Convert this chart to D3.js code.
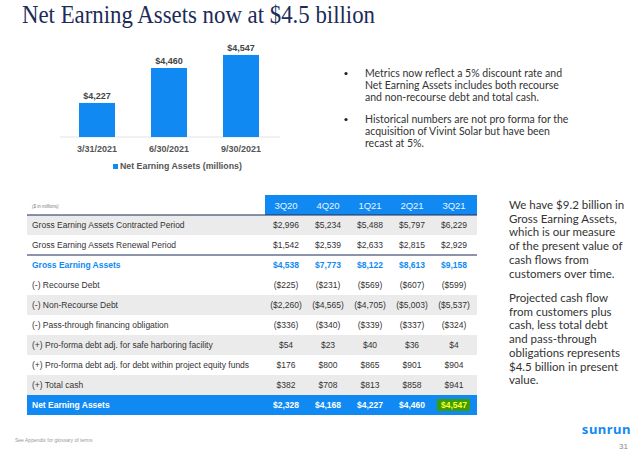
<!DOCTYPE html>
<html>
<head>
<meta charset="utf-8">
<script src="https://cdn.jsdelivr.net/npm/d3@7"></script>
<style>
  html, body { margin: 0; padding: 0; background: #fff; }
  svg { display: block; }
</style>
</head>
<body>
<svg id="chart" width="640" height="458"></svg>
<script>
// ---------- data ----------
const barCategories = ["3/31/2021", "6/30/2021", "9/30/2021"];
const barValues = [4227, 4460, 4547];
const barSeriesName = "Net Earning Assets (millions)";

const quarters = ["3Q20", "4Q20", "1Q21", "2Q21", "3Q21"];
const rowLabels = [
  "Gross Earning Assets Contracted Period",
  "Gross Earning Assets Renewal Period",
  "Gross Earning Assets",
  "(-) Recourse Debt",
  "(-) Non-Recourse Debt",
  "(-) Pass-through financing obligation",
  "(+) Pro-forma debt adj. for safe harboring facility",
  "(+) Pro-forma debt adj. for debt within project equity funds",
  "(+) Total cash",
  "Net Earning Assets"
];
const contracted    = [2996, 5234, 5488, 5797, 6229];
const renewal       = [1542, 2539, 2633, 2815, 2929];
const gross         = [4538, 7773, 8122, 8613, 9158];
const recourse      = [-225, -231, -569, -607, -599];
const nonRecourse   = [-2260, -4565, -4705, -5003, -5537];
const passThrough   = [-336, -340, -339, -337, -324];
const safeHarbor    = [54, 23, 40, 36, 4];
const projectEquity = [176, 800, 865, 901, 904];
const totalCash     = [382, 708, 813, 858, 941];
const netEarning    = [2328, 4168, 4227, 4460, 4547];
const tableValues = [contracted, renewal, gross, recourse, nonRecourse, passThrough,
                     safeHarbor, projectEquity, totalCash, netEarning];

const titleText = "Net Earning Assets now at $4.5 billion";
const bullets = [
  ["Metrics now reflect a 5% discount rate and", "Net Earning Assets includes both recourse", "and non-recourse debt and total cash."],
  ["Historical numbers are not pro forma for the", "acquisition of Vivint Solar but have been", "recast at 5%."]
];
const sideParas = [
  ["We have $9.2 billion in", "Gross Earning Assets,", "which is our measure", "of the present value of", "cash flows from", "customers over time."],
  ["Projected cash flow", "from customers plus", "cash, less total debt", "and pass-through", "obligations represents", "$4.5 billion in present", "value."]
];

// ---------- styles ----------
const BLUE = "#108af2";
const NAVY = "#1c2b57";
const sans = "'Liberation Sans', Arial, sans-serif";
const round = "Lato, 'Noto Sans', sans-serif";

const svg = d3.select("#chart");

// title
svg.append("text")
  .attr("x", 22).attr("y", 23)
  .attr("font-family", "'Liberation Serif', 'DejaVu Serif', serif")
  .attr("font-size", 25)
  .attr("fill", NAVY)
  .attr("textLength", 353).attr("lengthAdjust", "spacingAndGlyphs")
  .text(titleText);

// ---------- bar chart ----------
const x = d3.scaleBand().domain(barCategories).range([61, 277]).paddingInner(0.5).paddingOuter(0.25);
const y = d3.scaleLinear().domain([4000, 4600]).range([137, 47]);

const bc = svg.append("g");
bc.append("line")
  .attr("x1", 60).attr("x2", 280).attr("y1", y(4000)).attr("y2", y(4000))
  .attr("stroke", "#e2e2e2").attr("stroke-width", 1);

bc.selectAll("rect.bar").data(barValues).join("rect")
  .attr("class", "bar")
  .attr("x", (d, i) => x(barCategories[i]))
  .attr("width", x.bandwidth())
  .attr("y", d => y(d))
  .attr("height", d => y(4000) - y(d))
  .attr("fill", BLUE);

const fmtMoney = v => v < 0 ? "($" + d3.format(",")(-v) + ")" : "$" + d3.format(",")(v);

bc.selectAll("text.val").data(barValues).join("text")
  .attr("class", "val")
  .attr("x", (d, i) => x(barCategories[i]) + x.bandwidth() / 2)
  .attr("y", d => y(d) - 4)
  .attr("text-anchor", "middle")
  .attr("font-family", sans).attr("font-weight", "bold").attr("font-size", 9)
  .attr("fill", "#444")
  .text(d => fmtMoney(d));

const xAxis = bc.append("g").attr("transform", `translate(0,${y(4000)})`)
  .call(d3.axisBottom(x).tickSize(0).tickPadding(9));
xAxis.select(".domain").remove();
xAxis.selectAll("text")
  .attr("font-family", sans).attr("font-weight", "bold").attr("font-size", 9)
  .attr("fill", "#555");

// legend
bc.append("rect").attr("x", 113).attr("y", 164).attr("width", 5).attr("height", 5).attr("fill", BLUE);
bc.append("text").attr("x", 120).attr("y", 169)
  .attr("font-family", sans).attr("font-weight", "bold").attr("font-size", 8.8)
  .attr("fill", "#555").text(barSeriesName);

// ---------- bullets ----------
const bg = svg.append("g");
const bulletTops = [77, 123];
bullets.forEach((lines, bi) => {
  bg.append("circle").attr("cx", 346).attr("cy", bulletTops[bi] - 3.5).attr("r", 1.6).attr("fill", "#222");
  lines.forEach((ln, li) => {
    bg.append("text").attr("x", 365).attr("y", bulletTops[bi] + li * 12)
      .attr("font-family", round).attr("font-size", 10.5).attr("fill", "#333").text(ln);
  });
});

// ---------- table ----------
const colX = d3.scaleBand().domain(quarters).range([265, 475]);
const rowY = d3.scaleBand().domain(d3.range(rowLabels.length)).range([215, 415]);
const tbl = svg.append("g");
const greyRows = [0, 4, 6, 8];

// header
tbl.append("rect").attr("x", 265).attr("y", 195).attr("width", 212).attr("height", 20).attr("fill", BLUE);
tbl.selectAll("text.hdr").data(quarters).join("text")
  .attr("class", "hdr")
  .attr("x", d => colX(d) + colX.bandwidth() / 2)
  .attr("y", 208.5)
  .attr("text-anchor", "middle")
  .attr("font-family", sans).attr("font-size", 9.5).attr("fill", "#e8f3ff")
  .text(d => d);
tbl.append("text").attr("x", 32).attr("y", 208)
  .attr("font-family", sans).attr("font-style", "italic").attr("font-size", 4.5).attr("fill", "#777")
  .text("($ in millions)");

// row backgrounds
rowLabels.forEach((lbl, i) => {
  let fill = null;
  if (i === rowLabels.length - 1) fill = BLUE;
  else if (greyRows.includes(i)) fill = "#ebebeb";
  if (fill) {
    tbl.append("rect").attr("x", 27).attr("y", rowY(i)).attr("width", 450).attr("height", rowY.bandwidth()).attr("fill", fill);
  }
});
// rules
tbl.append("line").attr("x1", 27).attr("x2", 477).attr("y1", 215).attr("y2", 215).attr("stroke", NAVY).attr("stroke-width", 1.2);
tbl.append("line").attr("x1", 27).attr("x2", 477).attr("y1", rowY(2)).attr("y2", rowY(2)).attr("stroke", NAVY).attr("stroke-width", 1.2);

rowLabels.forEach((lbl, i) => {
  const isGross = i === 2, isNet = i === rowLabels.length - 1;
  const color = isNet ? "#ffffff" : (isGross ? BLUE : "#333");
  const weight = (isGross || isNet) ? "bold" : "normal";
  const cy = rowY(i) + rowY.bandwidth() / 2 + 3;
  tbl.append("text").attr("x", 32).attr("y", cy)
    .attr("font-family", sans).attr("font-size", 8.5).attr("font-weight", weight).attr("fill", color)
    .text(lbl);
  tableValues[i].forEach((v, j) => {
    const cx = colX(quarters[j]) + colX.bandwidth() / 2;
    const highlight = isNet && j === quarters.length - 1;
    if (highlight) {
      tbl.append("rect").attr("x", cx - 17).attr("y", rowY(i) + 4).attr("width", 33).attr("height", 12).attr("fill", "#3a9c06");
    }
    tbl.append("text").attr("x", cx).attr("y", cy)
      .attr("text-anchor", "middle")
      .attr("font-family", sans).attr("font-size", 8.5).attr("font-weight", weight)
      .attr("fill", highlight ? "#ffff33" : color)
      .text(fmtMoney(v));
  });
});

// ---------- side text ----------
const side = svg.append("g");
const paraTops = [209, 302];
sideParas.forEach((lines, pi) => {
  lines.forEach((ln, li) => {
    side.append("text").attr("x", 509).attr("y", paraTops[pi] + li * 13.7)
      .attr("font-family", round).attr("font-size", 11.5).attr("fill", "#333").text(ln);
  });
});

// ---------- footer ----------
svg.append("text").attr("x", 15).attr("y", 442)
  .attr("font-family", sans).attr("font-size", 5).attr("fill", "#999")
  .text("See Appendix for glossary of terms");
svg.append("text").attr("x", 631).attr("y", 434).attr("text-anchor", "end")
  .attr("font-family", "'Noto Sans', sans-serif").attr("font-weight", "bold").attr("font-size", 13)
  .attr("letter-spacing", 0.5)
  .attr("fill", BLUE).text("sunrun");
svg.append("text").attr("x", 628).attr("y", 449).attr("text-anchor", "end")
  .attr("font-family", sans).attr("font-size", 8).attr("fill", "#888").text("31");
</script>
</body>
</html>
